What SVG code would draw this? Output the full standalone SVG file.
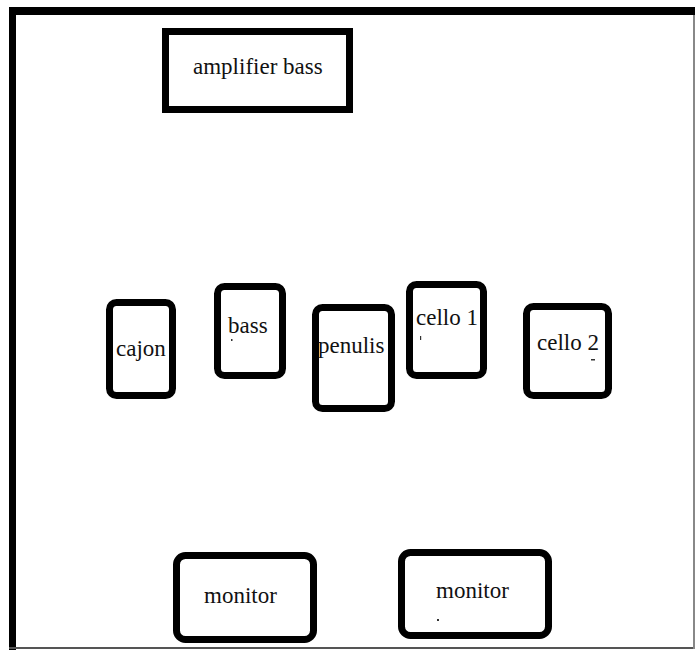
<svg xmlns="http://www.w3.org/2000/svg" width="695" height="650" viewBox="0 0 695 650">
  <style>
    .box { fill: #ffffff; stroke: #000000; stroke-width: 7; }
    .label { font-family: "Liberation Serif", "Times New Roman", serif; font-size: 23px; fill: #111111; }
    .speck { fill: #333333; }
  </style>
  <!-- stage frame -->
  <g id="frame">
    <rect x="0" y="0" width="695" height="650" fill="#ffffff"/>
    <rect x="9" y="7" width="686" height="8" fill="#000000"/>
    <rect x="9" y="7" width="7" height="643" fill="#000000"/>
    <rect x="9" y="647" width="686" height="2" fill="#555555"/>
    <rect x="693" y="15" width="2" height="634" fill="#888888"/>
  </g>
  <g id="amplifier-bass">
    <rect class="box" x="165.5" y="31.5" width="184" height="78"/>
    <text class="label" x="193" y="74">amplifier bass</text>
  </g>
  <g id="cajon">
    <rect class="box" x="109.5" y="302.5" width="63" height="93" rx="7"/>
    <text class="label" x="116" y="356">cajon</text>
  </g>
  <g id="bass">
    <rect class="box" x="217.5" y="286.5" width="65" height="89" rx="7"/>
    <text class="label" x="228" y="333">bass</text>
    <rect class="speck" x="231" y="339" width="1.5" height="2"/>
  </g>
  <g id="penulis">
    <rect class="box" x="315.5" y="307.5" width="76" height="101" rx="7"/>
    <text class="label" x="318" y="353">penulis</text>
  </g>
  <g id="cello-1">
    <rect class="box" x="409.5" y="284.5" width="74" height="91" rx="7"/>
    <text class="label" x="416" y="325">cello 1</text>
    <rect class="speck" x="420" y="336" width="1.2" height="4"/>
  </g>
  <g id="cello-2">
    <rect class="box" x="526.5" y="306.5" width="82" height="89" rx="7"/>
    <text class="label" x="537" y="350">cello 2</text>
    <rect class="speck" x="591" y="359" width="4" height="1.5"/>
  </g>
  <g id="monitor-left">
    <rect class="box" x="176.5" y="555.5" width="137" height="84" rx="9"/>
    <text class="label" x="204" y="603">monitor</text>
  </g>
  <g id="monitor-right">
    <rect class="box" x="401.5" y="552.5" width="147" height="83" rx="9"/>
    <text class="label" x="436" y="598">monitor</text>
    <rect class="speck" x="437" y="619" width="2" height="2"/>
  </g>
  <g id="connectors"></g>
</svg>
